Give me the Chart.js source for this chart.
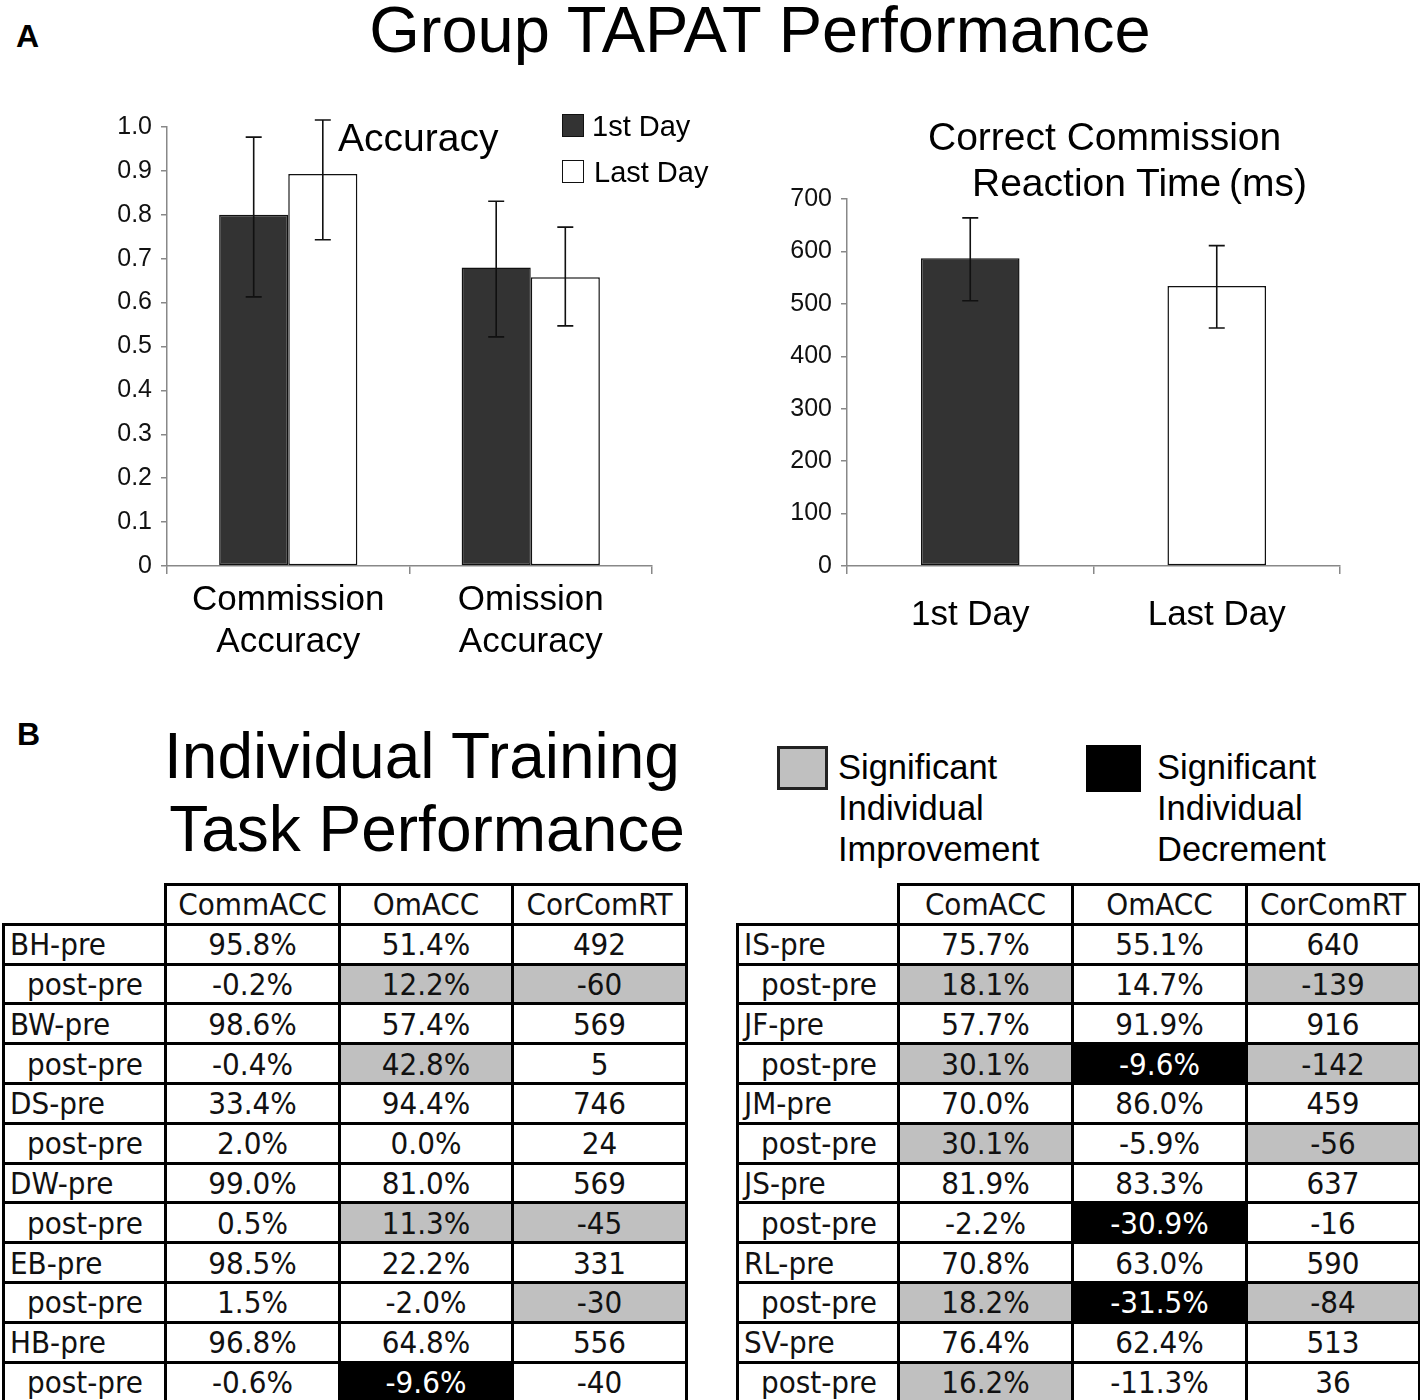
<!DOCTYPE html>
<html lang="en">
<head>
<meta charset="UTF-8" />
<title>Group TAPAT Performance</title>
<script src="https://cdn.jsdelivr.net/npm/chart.js"></script>
<style>
  body {
    margin: 0;
    background: #fff;
    width: 1420px;
    height: 1400px;
    position: relative;
    overflow: hidden;
    font-family: 'Liberation Sans', Arial, sans-serif;
    color: #000;
  }
  .t { position: absolute; line-height: 1; white-space: pre; }
  .box { position: absolute; box-sizing: border-box; }
  canvas { position: absolute; }
  table {
    position: absolute;
    border-collapse: collapse;
    table-layout: fixed;
    font-family: 'DejaVu Sans Condensed', 'DejaVu Sans', sans-serif;
    font-stretch: condensed;
    font-size: 31px;
    color: #111;
  }
  td {
    border: 3px solid #000;
    padding: 0;
    text-align: center;
    white-space: nowrap;
    overflow: hidden;
  }
  tr { height: 39.8px; }
  td.name { text-align: left; padding-left: 5px; }
  td.sub { padding-left: 22px; }
  td.blank { border-top: none; border-left: none; }
  td.imp { background: #c0c0c0; }
  td.dec { background: #000; color: #fff; }
</style>
</head>
<body>
  <canvas id="accChart" width="680" height="590" style="left:0;top:100px"></canvas>
  <canvas id="rtChart" width="700" height="590" style="left:720px;top:100px"></canvas>

  <script>
    // ---- panel A: group accuracy ----
    const accLabels = [['Commission', 'Accuracy'], ['Omission', 'Accuracy']];
    const accFirst = [0.80, 0.68];
    const accFirstLow = [0.613, 0.522];
    const accFirstHigh = [0.977, 0.831];
    const accLast = [0.893, 0.658];
    const accLastLow = [0.743, 0.547];
    const accLastHigh = [1.016, 0.772];
    const accTicks = [0, 0.1, 0.2, 0.3, 0.4, 0.5, 0.6, 0.7, 0.8, 0.9, 1.0];

    // ---- panel A: correct commission reaction time ----
    const rtLabels = ['1st Day', 'Last Day'];
    const rtValues = [587, 534];
    const rtLow = [506, 454];
    const rtHigh = [664, 611];
    const rtTicks = [0, 100, 200, 300, 400, 500, 600, 700];

    // ---- panel B: individual tables ----
    const leftSubjects = ['BH', 'BW', 'DS', 'DW', 'EB', 'HB'];
    const leftPreCom = [95.8, 98.6, 33.4, 99.0, 98.5, 96.8];
    const leftPreOm = [51.4, 57.4, 94.4, 81.0, 22.2, 64.8];
    const leftPreRT = [492, 569, 746, 569, 331, 556];
    const leftDiffCom = [-0.2, -0.4, 2.0, 0.5, 1.5, -0.6];
    const leftDiffOm = [12.2, 42.8, 0.0, 11.3, -2.0, -9.6];
    const leftDiffRT = [-60, 5, 24, -45, -30, -40];
    // i = significant improvement, d = significant decrement
    const leftSig = ['.ii', '.i.', '...', '.ii', '..i', '.d.'];

    const rightSubjects = ['IS', 'JF', 'JM', 'JS', 'RL', 'SV'];
    const rightPreCom = [75.7, 57.7, 70.0, 81.9, 70.8, 76.4];
    const rightPreOm = [55.1, 91.9, 86.0, 83.3, 63.0, 62.4];
    const rightPreRT = [640, 916, 459, 637, 590, 513];
    const rightDiffCom = [18.1, 30.1, 30.1, -2.2, 18.2, 16.2];
    const rightDiffOm = [14.7, -9.6, -5.9, -30.9, -31.5, -11.3];
    const rightDiffRT = [-139, -142, -56, -16, -84, 36];
    const rightSig = ['i.i', 'idi', 'i.i', '.d.', 'idi', 'i..'];

    Chart.defaults.font.family = "'Liberation Sans', Arial, sans-serif";

    function place(text, x, baseline, size, opt) {
      opt = opt || {};
      const d = document.createElement('div');
      d.className = 't';
      d.textContent = text;
      d.style.fontSize = size + 'px';
      d.style.top = (baseline - 0.8465 * size) + 'px';
      d.style.left = x + 'px';
      if (opt.bold) d.style.fontWeight = 'bold';
      if (opt.center) d.style.transform = 'translateX(-50%)';
      document.body.appendChild(d);
    }

    function box(x, y, w, h, fill, border) {
      const d = document.createElement('div');
      d.className = 'box';
      Object.assign(d.style, {
        left: x + 'px', top: y + 'px', width: w + 'px', height: h + 'px',
        background: fill, border: border
      });
      document.body.appendChild(d);
    }

    const errorBars = {
      id: 'errorBars',
      afterDatasetsDraw(chart) {
        const ctx = chart.ctx;
        const y = chart.scales.y;
        chart.data.datasets.forEach((ds, i) => {
          chart.getDatasetMeta(i).data.forEach((bar, j) => {
            const lo = y.getPixelForValue(ds.errLow[j]);
            const hi = y.getPixelForValue(ds.errHigh[j]);
            ctx.save();
            ctx.strokeStyle = '#111';
            ctx.lineWidth = 1.6;
            ctx.beginPath();
            ctx.moveTo(bar.x, lo); ctx.lineTo(bar.x, hi);
            ctx.moveTo(bar.x - 8, lo); ctx.lineTo(bar.x + 8, lo);
            ctx.moveTo(bar.x - 8, hi); ctx.lineTo(bar.x + 8, hi);
            ctx.stroke();
            ctx.restore();
          });
        });
      }
    };

    function axisGrid(len) {
      return { offset: true, drawOnChartArea: false, tickLength: len, color: '#888', lineWidth: 1.5 };
    }

    new Chart(document.getElementById('accChart'), {
      type: 'bar',
      data: {
        labels: accLabels,
        datasets: [
          { label: '1st Day', data: accFirst, errLow: accFirstLow, errHigh: accFirstHigh,
            backgroundColor: '#333333', borderColor: '#111', borderWidth: 1.5, borderSkipped: false,
            categoryPercentage: 0.57, barPercentage: 1 },
          { label: 'Last Day', data: accLast, errLow: accLastLow, errHigh: accLastHigh,
            backgroundColor: '#ffffff', borderColor: '#111', borderWidth: 1.5, borderSkipped: false,
            categoryPercentage: 0.57, barPercentage: 1 }
        ]
      },
      options: {
        responsive: false,
        animation: false,
        devicePixelRatio: 1,
        layout: { padding: { top: 27, right: 28, left: 0, bottom: 0 } },
        plugins: { legend: { display: false }, tooltip: { enabled: false } },
        scales: {
          x: {
            grid: axisGrid(8),
            border: { color: '#888', width: 1.5 },
            ticks: { font: { size: 35, lineHeight: 1.2 }, color: '#000', padding: 5 },
            afterFit(s) { s.height = 124; }
          },
          y: {
            min: 0, max: 1,
            grid: { drawOnChartArea: false, tickLength: 6, color: '#888', lineWidth: 1.5 },
            border: { color: '#888', width: 1.5 },
            afterBuildTicks(s) { s.ticks = accTicks.map(v => ({ value: v })); },
            ticks: { font: { size: 25 }, color: '#111', padding: 9,
                     callback: v => v === 0 ? '0' : v.toFixed(1) },
            afterFit(s) { s.width = 167; }
          }
        }
      },
      plugins: [errorBars]
    });

    new Chart(document.getElementById('rtChart'), {
      type: 'bar',
      data: {
        labels: rtLabels,
        datasets: [
          { label: 'RT', data: rtValues, errLow: rtLow, errHigh: rtHigh,
            backgroundColor: ['#333333', '#ffffff'], borderColor: '#111', borderWidth: 1.5,
            borderSkipped: false, categoryPercentage: 1, barPercentage: 0.4 }
        ]
      },
      options: {
        responsive: false,
        animation: false,
        devicePixelRatio: 1,
        layout: { padding: { top: 99, right: 80, left: 0, bottom: 0 } },
        plugins: { legend: { display: false }, tooltip: { enabled: false } },
        scales: {
          x: {
            grid: axisGrid(8),
            border: { color: '#888', width: 1.5 },
            ticks: { font: { size: 35, lineHeight: 1.2 }, color: '#000', padding: 20 },
            afterFit(s) { s.height = 124; }
          },
          y: {
            min: 0, max: 700,
            grid: { drawOnChartArea: false, tickLength: 6, color: '#888', lineWidth: 1.5 },
            border: { color: '#888', width: 1.5 },
            afterBuildTicks(s) { s.ticks = rtTicks.map(v => ({ value: v })); },
            ticks: { font: { size: 25 }, color: '#111', padding: 9 },
            afterFit(s) { s.width = 127; }
          }
        }
      },
      plugins: [errorBars]
    });

    // text and legends
    place('A', 16, 47, 32, { bold: true });
    place('Group TAPAT Performance', 760, 52, 65, { center: true });
    place('Accuracy', 338, 151, 39);
    box(562, 114, 22, 23, '#333333', '1.5px solid #111');
    box(562, 160, 22, 23, '#ffffff', '1.5px solid #111');
    place('1st Day', 592, 137, 29);
    place('Last Day', 594, 183, 29);
    place('Correct Commission', 928, 150, 39);
    place('Reaction Time\u2009(ms)', 972, 196, 39);

    place('B', 17, 745, 32, { bold: true });
    place('Individual Training', 422, 778, 64, { center: true });
    place('Task Performance', 427, 851, 64, { center: true });
    box(777, 746, 51, 44, '#c0c0c0', '3px solid #222');
    box(1086, 745, 55, 47, '#000', '3px solid #000');
    ['Significant', 'Individual', 'Improvement'].forEach((s, i) => place(s, 838, 779 + i * 41, 34.5));
    ['Significant', 'Individual', 'Decrement'].forEach((s, i) => place(s, 1157, 779 + i * 41, 34.5));

    function pct(v) { return v.toFixed(1) + '%'; }

    function buildTable(left, widths, head, subj, preC, preO, preR, dC, dO, dR, sig) {
      const tb = document.createElement('table');
      tb.style.left = left + 'px';
      tb.style.top = '883px';
      const cg = document.createElement('colgroup');
      widths.forEach(w => { const c = document.createElement('col'); c.style.width = w + 'px'; cg.appendChild(c); });
      tb.appendChild(cg);
      tb.style.width = widths.reduce((a, b) => a + b, 0) + 'px';
      const addRow = (cells, cls) => {
        const tr = document.createElement('tr');
        cells.forEach((c, k) => {
          const td = document.createElement('td');
          td.textContent = c;
          if (cls[k]) td.className = cls[k];
          tr.appendChild(td);
        });
        tb.appendChild(tr);
      };
      addRow(['', ...head], ['blank', '', '', '']);
      subj.forEach((s, i) => {
        addRow([s + '-pre', pct(preC[i]), pct(preO[i]), String(preR[i])], ['name', '', '', '']);
        const m = sig[i].split('').map(ch => ch === 'i' ? 'imp' : ch === 'd' ? 'dec' : '');
        addRow(['post-pre', pct(dC[i]), pct(dO[i]), String(dR[i])], ['name sub', ...m]);
      });
      document.body.appendChild(tb);
    }

    buildTable(2, [162, 174, 173, 174], ['CommACC', 'OmACC', 'CorComRT'],
      leftSubjects, leftPreCom, leftPreOm, leftPreRT, leftDiffCom, leftDiffOm, leftDiffRT, leftSig);
    buildTable(736, [161, 174, 174, 173], ['ComACC', 'OmACC', 'CorComRT'],
      rightSubjects, rightPreCom, rightPreOm, rightPreRT, rightDiffCom, rightDiffOm, rightDiffRT, rightSig);
  </script>
</body>
</html>
